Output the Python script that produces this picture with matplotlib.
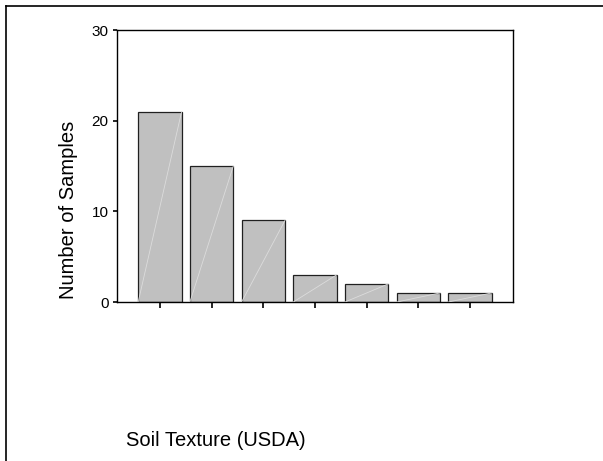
import matplotlib
matplotlib.use("Agg")
import matplotlib.pyplot as plt
from matplotlib.lines import Line2D

categories = ["T1", "T2", "T3", "T4", "T5", "T6", "T7"]
counts = [21, 15, 9, 3, 2, 1, 1]
yticks = [0, 10, 20, 30]
ylabel = "Number of Samples"
xlabel = "Soil Texture (USDA)"

plt.rcParams['font.family'] = ['Liberation Sans', 'DejaVu Sans']

W, H = 603, 461
fig = plt.figure(figsize=(W / 100, H / 100), dpi=100)
ax = fig.add_axes([117 / W, 1 - 302 / H, (513 - 117) / W, (302 - 30) / H])

pos = list(range(len(categories)))
bars = ax.bar(pos, counts, width=0.84, color="#c0c0c0", edgecolor="#202020", linewidth=0.9, zorder=2)
for b in bars:
    x0, y0 = b.get_x(), b.get_y()
    ax.plot([x0, x0 + b.get_width()], [y0, y0 + b.get_height()], color="#dcdcdc", lw=0.6, zorder=3)

ax.set_xlim(-0.83, len(categories) - 1 + 0.83)
ax.set_ylim(0, 30)
ax.set_yticks(yticks)
ax.set_xticks(pos)
ax.set_xticklabels([])
ax.tick_params(axis='y', direction='out', length=3, width=1.2, labelsize=11, pad=3)
ax.tick_params(axis='x', direction='out', length=4, width=1.2)
for s in ax.spines.values():
    s.set_linewidth(1.0)
    s.set_color("black")

fig.text(68 / W, 1 - 210 / H, ylabel, rotation=90, ha='center', va='center', fontsize=14.5)
fig.text(306 / W, 1 - 440 / H, xlabel, ha='right', va='center', fontsize=14.5)

fig.add_artist(Line2D([6 / W, 1], [1 - 6 / H, 1 - 6 / H], transform=fig.transFigure, color='black', lw=1.2))
fig.add_artist(Line2D([6 / W, 6 / W], [1 - 6 / H, 0], transform=fig.transFigure, color='black', lw=1.2))

fig.savefig("out.png", dpi=100)
